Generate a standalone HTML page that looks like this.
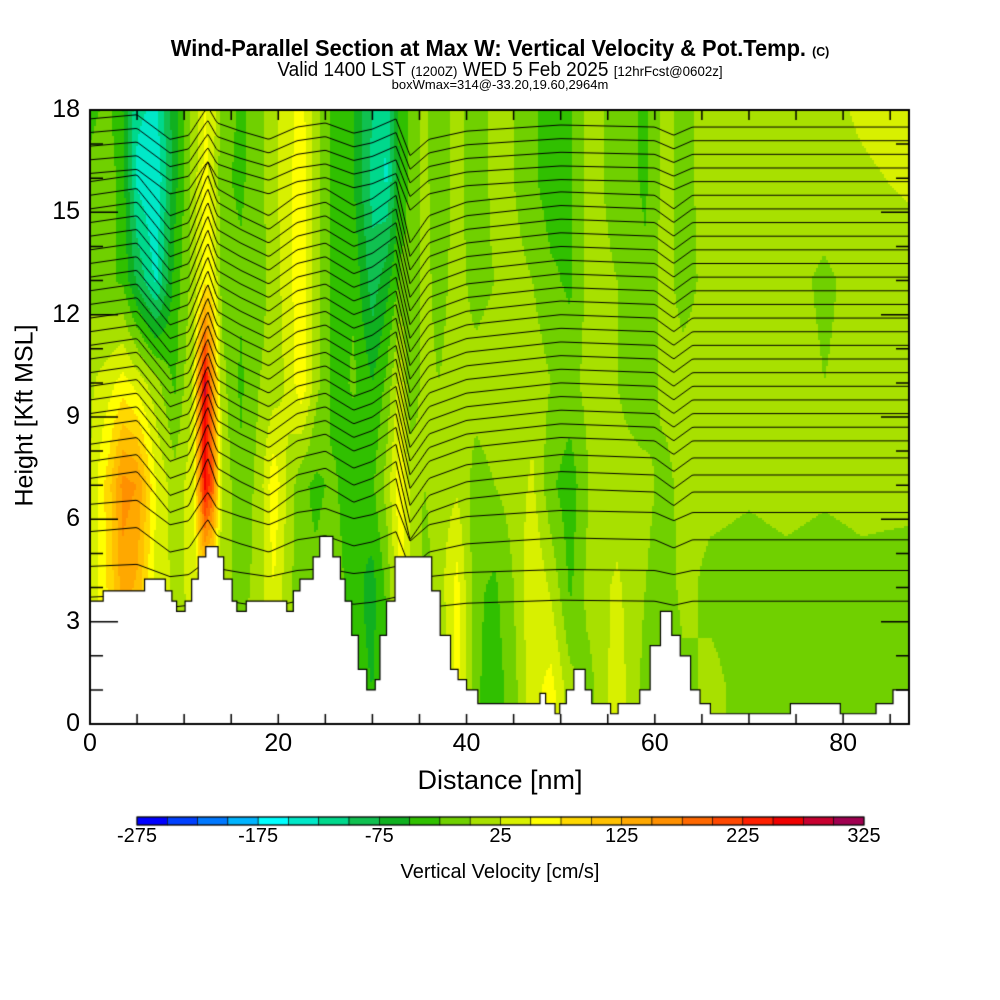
<!DOCTYPE html>
<html><head><meta charset="utf-8">
<style>
body{margin:0;background:#fff;width:1000px;height:1000px;position:relative;overflow:hidden;font-family:"Liberation Sans",sans-serif;}
.t{position:absolute;white-space:nowrap;color:#000;}
canvas{position:absolute;left:0;top:0;}
</style></head>
<body>
<canvas id="cv" width="1000" height="1000"></canvas>
<div class="t" style="left:0;width:1000px;text-align:center;top:35px;font-size:23px;font-weight:bold;transform:scaleX(0.95);">Wind-Parallel Section at Max W: Vertical Velocity &amp; Pot.Temp. <span style="font-size:13px">(C)</span></div>
<div class="t" style="left:0;width:1000px;text-align:center;top:59px;font-size:20px;transform:scaleX(0.95);">Valid 1400 LST <span style="font-size:14px">(1200Z)</span> WED 5 Feb 2025 <span style="font-size:14px">[12hrFcst@0602z]</span></div>
<div class="t" style="left:0;width:1000px;text-align:center;top:77px;font-size:13px;">boxWmax=314@-33.20,19.60,2964m</div>
<div class="t" style="left:-65px;top:402px;width:180px;text-align:center;font-size:25px;transform:rotate(-90deg);">Height [Kft MSL]</div>
<div class="t" style="left:0;width:1000px;text-align:center;top:765px;font-size:27px;">Distance [nm]</div>
<div class="t" style="left:0;width:1000px;text-align:center;top:861px;font-size:20px;">Vertical Velocity [cm/s]</div>
<div id="labels"></div>
<script>
const nodeDist=[0,2,3.5,5,7,9,11,12.2,13,14,16,18,19.5,21,22.5,24,26,28,30,31.5,33,34,35.5,37,39,41,43,45,47,49,51,53,56,59,61,63,66,70,74,78,82,87];
const levels=[1,4,7,10,13,16,18];
const w1=[25,30,60,60,30,15,20,30,30,10,10,10,40,10,-10,-10,-30,-40,-50,-30,10,10,-20,-20,60,-20,-40,-10,40,60,10,-10,40,-10,-20,-10,10,-15,-10,-20,-15,-10];
const w4=[30,80,140,120,40,20,30,60,40,10,-10,10,50,10,-20,-20,-10,-40,-60,-20,60,30,-10,10,60,-20,-30,0,50,20,-30,10,30,0,-20,10,-10,-15,-10,-15,-10,-15];
const w7=[25,90,160,150,50,10,40,260,200,20,-20,10,70,20,-20,-30,-20,-50,-30,10,70,20,0,10,20,-10,0,10,30,-20,-40,0,10,10,-10,10,10,5,10,5,10,10];
const w10=[20,40,60,40,10,-30,30,280,150,10,-30,0,10,30,70,10,-40,-20,-50,-20,40,-20,10,0,10,10,15,10,15,0,-10,10,0,-20,10,10,10,0,15,0,10,15];
const w13=[-10,-20,-30,-80,-130,-40,10,70,60,-10,-20,-10,10,40,70,10,-40,-30,-90,-60,-20,-20,10,-10,10,-10,0,10,0,-20,-30,10,0,-20,10,-10,10,0,10,-5,10,10];
const w16=[-20,-10,-40,-130,-150,-60,10,60,40,-20,-30,-10,20,40,70,10,-40,-50,-110,-130,-40,-20,10,-20,10,-20,10,0,-20,-40,-30,10,-10,-30,10,-10,15,0,10,15,20,30];
const w18=[-30,-20,-50,-120,-130,-60,10,50,40,-10,-30,-10,20,40,60,10,-40,-50,-100,-120,-40,-20,10,-20,10,-20,10,0,-20,-40,-30,10,-10,-30,10,-10,15,0,10,15,30,40];
const terrainStart=[0,1.4,5.8,8.0,8.7,9.2,10.1,10.8,11.5,12.3,13.6,14.2,15.1,15.6,16.6,20.9,21.6,22.3,23.7,24.4,25.8,26.6,27.1,27.8,28.5,29.4,30.3,30.8,31.5,32.4,36.3,37.2,38.3,39.1,40.0,41.2,47.8,48.4,49.4,49.9,50.6,51.4,52.6,53.3,55.3,56.1,58.4,59.5,60.6,61.8,62.7,63.8,64.8,65.9,74.4,79.7,83.5,85.3];
const terrainHeight=[3.6,3.9,4.25,3.9,3.6,3.3,3.6,4.25,4.9,5.2,4.9,4.25,3.6,3.3,3.6,3.3,3.9,4.25,4.9,5.5,4.9,4.25,3.6,2.6,1.6,1.0,1.3,2.6,3.6,4.9,3.9,2.6,1.6,1.3,1.0,0.6,0.9,0.6,0.3,0.6,1.0,1.6,1.0,0.6,0.3,0.6,1.0,2.3,3.3,2.6,2.0,1.0,0.6,0.3,0.6,0.3,0.6,1.0];
const thetaBase=[3.6,4.5,5.4,6.2,6.8,7.3,7.8,8.3,8.7,9.1,9.5,9.9,10.3,10.7,11.1,11.5,11.9,12.3,12.7,13.1,13.5,13.9,14.3,14.7,15.1,15.5,15.9,16.3,16.7,17.1,17.5];
const pertDist=[0,5,8.5,10.5,12.5,13.5,16,19,22,25,28,30,32.5,34,36,40,50,60,62,64,70,87];
const pertKft=[0.4,0.6,-0.6,-0.4,1.0,0.2,-0.2,-0.6,0,0.2,-0.3,-0.1,0.4,-1.4,-0.6,-0.2,0.1,0,-0.4,0,0,0];
const cbTicks=[-275,-175,-75,25,125,225,325];
const xTicks=[0,20,40,60,80];
const yTicks=[0,3,6,9,12,15,18];
const binColors=["#0000ff","#0040ff","#0078ff","#00b4ff","#00ffff","#00e8c8","#00d88c","#10c050","#10b020","#30c000","#70d000","#a8e000","#d8f000","#ffff00","#ffd800","#ffc000","#ffa800","#ff9000","#ff6800","#ff4800","#ff2000","#f00000","#c80030","#a00050"];
const wRows=[w1,w4,w7,w10,w13,w16,w18];
const X0=90,X1=909,Y0=724,Y1=110,DMAX=87,HMAX=18;
const sx=d=>X0+d*(X1-X0)/DMAX, sy=h=>Y0-h*(Y0-Y1)/HMAX;
const cv=document.getElementById('cv'),c=cv.getContext('2d');
function interp(xs,ys,x){if(x<=xs[0])return ys[0];for(let i=1;i<xs.length;i++){if(x<=xs[i]){const t=(x-xs[i-1])/(xs[i]-xs[i-1]);return ys[i-1]+t*(ys[i]-ys[i-1]);}}return ys[ys.length-1];}
function colorOf(v){let i=Math.floor((v+275)/25);i=Math.max(0,Math.min(23,i));return binColors[i];}
for(let px=X0;px<X1;px+=2){const d=(px+1-X0)*DMAX/(X1-X0);const col=wRows.map(r=>interp(nodeDist,r,d));
 for(let py=Y1;py<Y0;py+=2){const h=(Y0-py-1)*HMAX/(Y0-Y1);c.fillStyle=colorOf(interp(levels,col,h));c.fillRect(px,py,2,2);}}
c.strokeStyle='#000';c.lineWidth=1;
thetaBase.forEach(b=>{const sc=b<5?0.3:(b<6.5?0.6:(b>15.5?0.6:1));c.beginPath();
 for(let px=X0;px<=X1;px+=2){const d=(px-X0)*DMAX/(X1-X0);const h=b+interp(pertDist,pertKft,d)*sc;const y=Math.max(Y1,sy(h));if(px===X0)c.moveTo(px,y);else c.lineTo(px,y);}c.stroke();});
c.fillStyle='#fff';c.beginPath();c.moveTo(X0,Y0);
for(let i=0;i<terrainStart.length;i++){const xa=sx(terrainStart[i]),xb=i+1<terrainStart.length?sx(terrainStart[i+1]):X1;const y=sy(terrainHeight[i]);c.lineTo(xa,y);c.lineTo(xb,y);}
c.lineTo(X1,Y0);c.closePath();c.fill();c.lineWidth=1.2;c.stroke();
c.lineWidth=2;c.strokeRect(X0,Y1,X1-X0,Y0-Y1);c.lineWidth=1.5;
for(let h=0;h<=18;h++){const L=h%3===0?28:13;const y=sy(h);c.beginPath();c.moveTo(X0,y);c.lineTo(X0+L,y);c.moveTo(X1,y);c.lineTo(X1-L,y);c.stroke();}
for(let d=5;d<DMAX;d+=5){const x=sx(d);c.beginPath();c.moveTo(x,Y0);c.lineTo(x,Y0-10);c.moveTo(x,Y1);c.lineTo(x,Y1+10);c.stroke();}
const CB0=137,CB1=864,cw=(CB1-CB0)/24;
binColors.forEach((col,i)=>{c.fillStyle=col;c.fillRect(CB0+i*cw,817,cw,8);c.strokeStyle='#000';c.lineWidth=0.6;c.strokeRect(CB0+i*cw,817,cw,8);});
c.lineWidth=1;c.strokeRect(CB0,817,CB1-CB0,8);
const lab=document.getElementById('labels');
function addLabel(txt,x,y,size,name,align){const e=document.createElement('div');e.className='t';e.textContent=txt;
 
 
 e.style.fontSize=size+'px';e.style.top=y+'px';
 if(align==='r'){e.style.right=(1000-x)+'px';}else{e.style.left=(x-50)+'px';e.style.width='100px';e.style.textAlign='center';}
 lab.appendChild(e);}
yTicks.forEach(v=>addLabel(String(v),80,sy(v)-15,25,'y-tick-label','r'));
xTicks.forEach(v=>addLabel(String(v),sx(v),729,25,'x-tick-label','c'));
cbTicks.forEach(v=>addLabel(String(v),CB0+(v+275)/600*(CB1-CB0),825,20,'colorbar-tick-label','c'));
</script>
</body></html>
